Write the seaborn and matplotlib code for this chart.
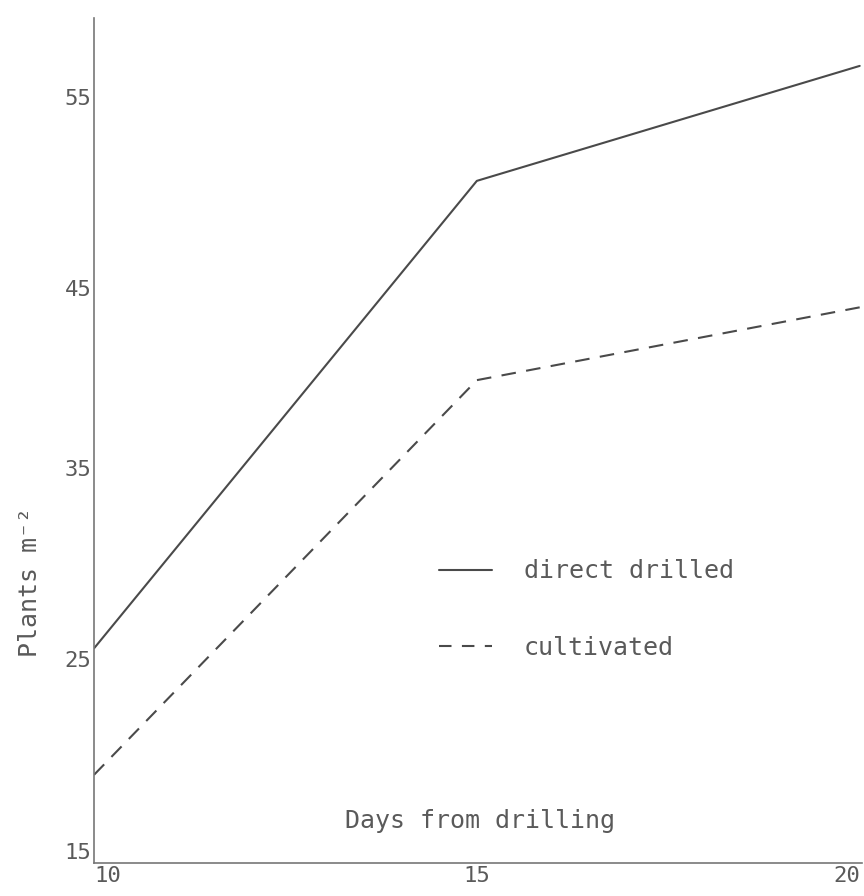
import matplotlib
matplotlib.use("Agg")
import matplotlib.pyplot as plt
import seaborn as sns
import pandas as pd
from matplotlib.lines import Line2D

days = [10, 15, 20]
direct_drilled = [26.2, 50.6, 56.6]
cultivated = [19.6, 40.2, 44.0]
series_names = ["direct drilled", "cultivated"]
y_ticks = [15, 25, 35, 45, 55]
x_ticks = [10, 15, 20]

df = pd.DataFrame({
    "days": days * 2,
    "plants": direct_drilled + cultivated,
    "method": [series_names[0]] * 3 + [series_names[1]] * 3,
})

sns.set_theme(style="white")
plt.rcParams["font.family"] = ["DejaVu Sans Mono", "DejaVu Sans"]

ink = "#4a4a4a"
txt = "#5a5a5a"

fig = plt.figure(figsize=(8.64, 8.96), dpi=100)
ax = fig.add_axes([94 / 864, 1 - 863 / 896, (862 - 94) / 864, (863 - 18) / 896])

dash_map = {series_names[0]: "", series_names[1]: (7, 5)}
sns.lineplot(data=df, x="days", y="plants", style="method", dashes=dash_map,
             color=ink, linewidth=1.5, legend=False, ax=ax)

ax.set_xlim(10, 20.03)
ax.set_ylim(15, 59.1)
ax.set_xticks(x_ticks)
ax.set_yticks(y_ticks)
ax.set_xticklabels([str(v) for v in x_ticks])
ax.set_yticklabels([str(v) for v in y_ticks])
ax.tick_params(axis="both", direction="in", length=8, width=1.0, color=ink,
               labelsize=16, labelcolor=txt, pad=2)

# tick label placement as in the scanned figure
xl = ax.get_xticklabels()
xl[0].set_ha("left")
xl[-1].set_ha("right")
yl = ax.get_yticklabels()
yl[0].set_va("bottom")
yl[1].set_va("bottom")
yl[2].set_va("bottom")

for s in ["top", "right"]:
    ax.spines[s].set_visible(False)
for s in ["left", "bottom"]:
    ax.spines[s].set_color("#777777")
    ax.spines[s].set_linewidth(1.2)

ax.set_xlabel("")
ax.set_ylabel("Plants m⁻²", fontsize=18, color=txt)
ax.yaxis.set_label_coords(-0.068, 0.333)

ax.text(0.503, 0.05, "Days from drilling", transform=ax.transAxes,
        ha="center", va="center", fontsize=18, color=txt)

handles = [
    Line2D([0], [0], color=ink, linewidth=1.5, linestyle="-"),
    Line2D([0], [0], color=ink, linewidth=1.5, linestyle=(0, (6, 5))),
]
leg = ax.legend(handles, series_names, frameon=False, fontsize=18,
                handlelength=2.1, handletextpad=1.3, labelspacing=2.1,
                loc="center left", bbox_to_anchor=(0.42, 0.30))
for t in leg.get_texts():
    t.set_color(txt)

fig.savefig("out.png", dpi=100, facecolor="white")
